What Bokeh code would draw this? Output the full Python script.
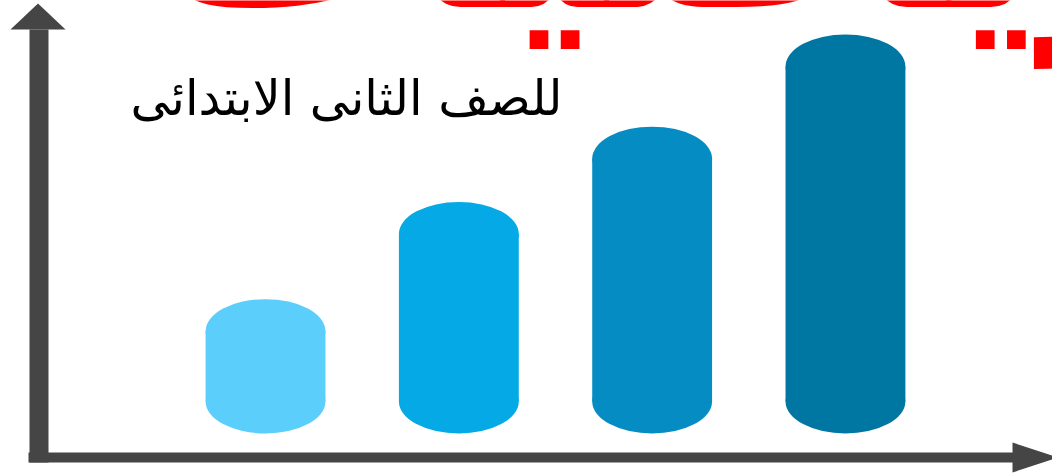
from bokeh.plotting import figure
from bokeh.models import Range1d, ColumnDataSource, Label
from bokeh.embed import file_html
from bokeh.resources import INLINE

# ---- data ----
categories = ["A", "B", "C", "D"]
values = [2.1, 5.0, 7.25, 10.0]
colors = ["#5BCEFC", "#04A9E5", "#058DC3", "#0077A3"]
subtitle = "للصف الثانى الابتدائى"
title_text = "رياضيات"

W, H = 1052, 476
bar_w = 0.62
cap_h = 1.91

p = figure(width=W, height=H, output_backend="svg", toolbar_location=None,
           x_range=Range1d(-1.371, 4.071), y_range=Range1d(-2.239, 11.970),
           min_border=0, outline_line_color=None)
p.axis.visible = False
p.grid.visible = False
p.background_fill_color = "white"
p.border_fill_color = "white"

# page-pixel ranges for decorations
p.extra_x_ranges = {"px": Range1d(0, W)}
p.extra_y_ranges = {"px": Range1d(H, 0)}

xs = list(range(len(categories)))
src = ColumnDataSource(dict(
    x=xs, top=values, mid=[v / 2 for v in values], h=values,
    bottom=[0] * len(values), color=colors))

p.ellipse(x="x", y="bottom", width=bar_w, height=cap_h, fill_color="color",
          line_color=None, source=src)
p.rect(x="x", y="mid", width=bar_w, height="h", fill_color="color",
       line_color=None, source=src)
p.ellipse(x="x", y="top", width=bar_w, height=cap_h, fill_color="color",
          line_color=None, source=src)

axc = "#454545"
# vertical axis arrow
p.quad(left=29, right=48, top=29, bottom=462, fill_color=axc, line_color=None,
       x_range_name="px", y_range_name="px")
p.patch([10, 65, 37.5], [29, 29, 3], fill_color=axc, line_color=None,
        x_range_name="px", y_range_name="px")
# horizontal axis arrow
p.quad(left=28, right=1014, top=452, bottom=462, fill_color=axc, line_color=None,
       x_range_name="px", y_range_name="px")
p.patch([1012, 1012, 1058], [442, 472, 457], fill_color=axc, line_color=None,
        x_range_name="px", y_range_name="px")

# texts
p.add_layout(Label(x=130, y=98, x_range_name="px", y_range_name="px",
                   text=subtitle, text_font="DejaVu Sans", text_font_size="49px",
                   text_color="black", text_align="left", text_baseline="alphabetic"))
p.add_layout(Label(x=150, y=-82, x_range_name="px", y_range_name="px",
                   text=title_text, text_font="DejaVu Sans", text_font_style="bold",
                   text_font_size="255px", text_color="#FF0000",
                   text_align="left", text_baseline="alphabetic"))

open("out.html", "w").write(file_html(p, INLINE))
